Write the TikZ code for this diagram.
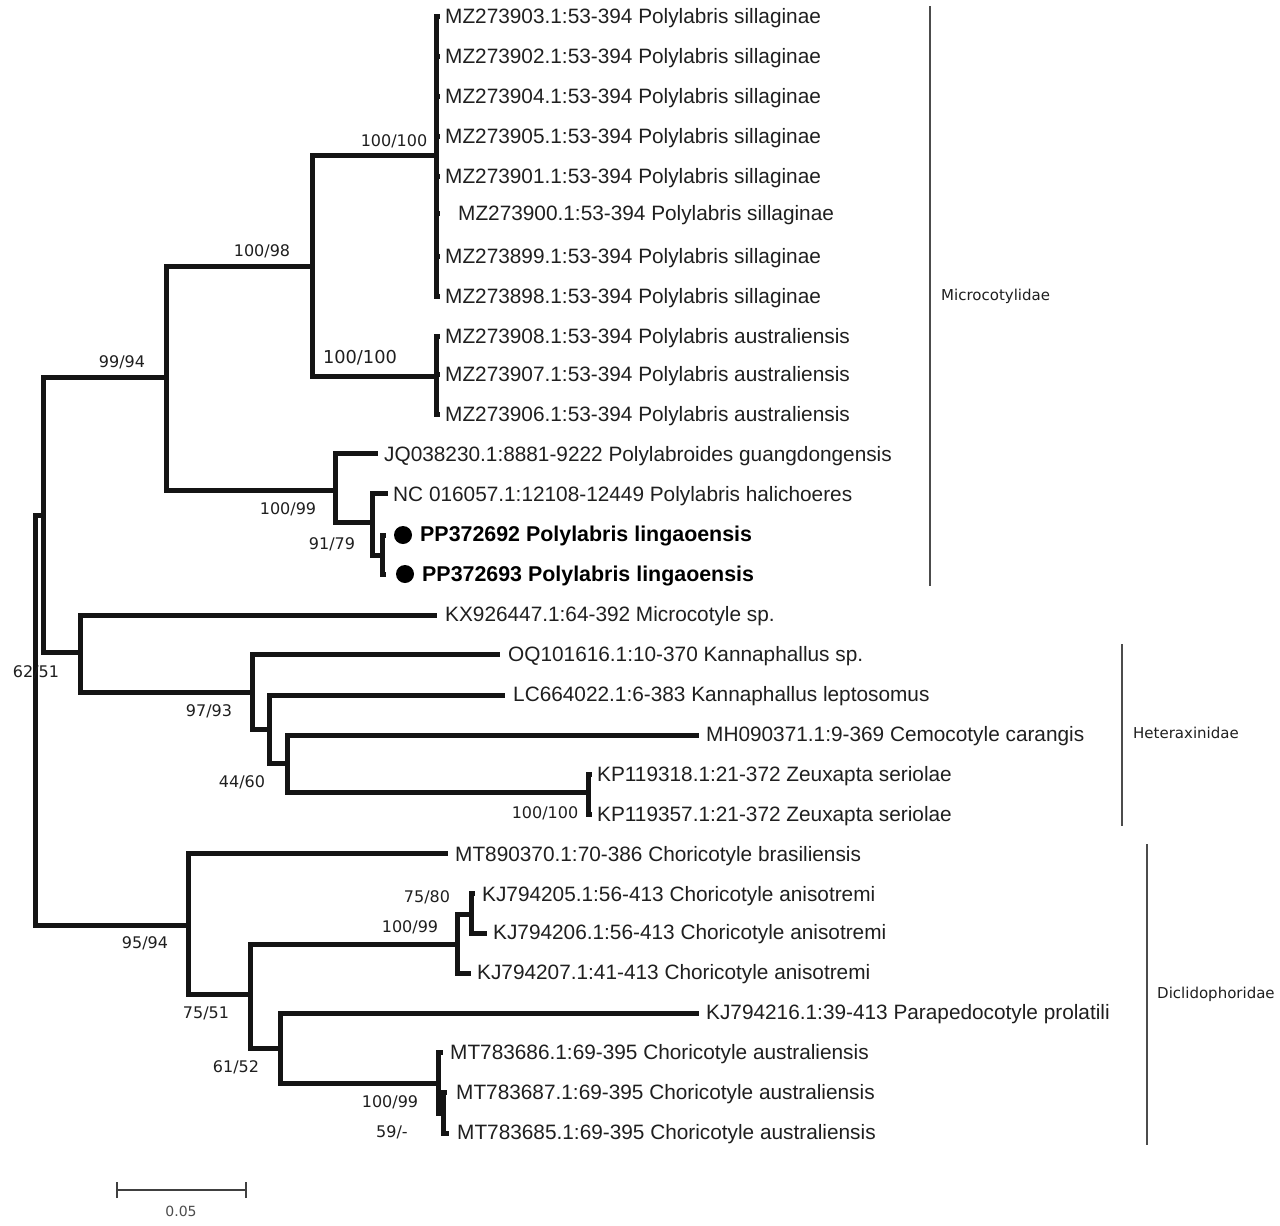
\documentclass[tikz,border=0pt]{standalone}
\usepackage{fontspec}
\setmainfont{Liberation Sans}
\newfontfamily\supfont{DejaVu Sans}
\begin{document}
\begin{tikzpicture}[x=1pt,y=-1pt,
  br/.style={line width=5pt, draw=black!92},
  leaf/.style={anchor=west, inner sep=0pt, text height=15pt, text depth=0pt, font=\fontsize{20.8}{21}\selectfont, text=black!88},
  bleaf/.style={leaf, font=\fontsize{21.4}{22}\selectfont\bfseries, text=black},
  suplab/.style={inner sep=0pt, text height=11.7pt, text depth=0pt, font=\supfont\fontsize{16}{16}\selectfont, text=black!88},
  bigsup/.style={suplab, text height=13pt, font=\supfont\fontsize{17.8}{18}\selectfont},
  fam/.style={anchor=west, inner sep=0pt, font=\supfont\fontsize{15}{15}\selectfont, text=black!88},
  fambar/.style={line width=2pt, draw=black!70},
  dot/.style={circle, fill=black, inner sep=0pt, minimum size=18pt}]
\useasboundingbox (0,0) rectangle (1280,1226);
\fill[white] (0,0) rectangle (1280,1226);

% internal nodes
\coordinate (R) at (35,720);
\coordinate (U) at (43,515);
\coordinate (L) at (188,925);
\coordinate (A) at (166,377);
\coordinate (B) at (312,266);
\coordinate (S) at (436,155);
\coordinate (Au) at (436,376);
\coordinate (C) at (335,490);
\coordinate (D) at (372,522);
\coordinate (E) at (382,555);
\coordinate (F) at (80,652);
\coordinate (G) at (252,692);
\coordinate (H) at (269,729);
\coordinate (I) at (287,763);
\coordinate (Z) at (588,792);
\coordinate (M) at (250,994);
\coordinate (N) at (457,944);
\coordinate (O) at (471,914);
\coordinate (P) at (280,1048);
\coordinate (Q) at (438,1083);
\coordinate (Q2) at (443,1113);

% leaf tips
\coordinate (t1) at (440,16);
\coordinate (t2) at (440,56);
\coordinate (t3) at (440,96);
\coordinate (t4) at (440,136);
\coordinate (t5) at (440,176);
\coordinate (t6) at (440,213);
\coordinate (t7) at (440,256);
\coordinate (t8) at (440,296);
\coordinate (t9) at (440,336);
\coordinate (t10) at (440,374);
\coordinate (t11) at (440,414);
\coordinate (t12) at (378,453);
\coordinate (t13) at (388,493);
\coordinate (t14) at (386,535);
\coordinate (t15) at (386,574);
\coordinate (t16) at (437,615);
\coordinate (t17) at (500,654);
\coordinate (t18) at (505,695);
\coordinate (t19) at (699,735);
\coordinate (t20) at (592,774);
\coordinate (t21) at (592,814);
\coordinate (t22) at (448,853);
\coordinate (t23) at (475,893);
\coordinate (t24) at (487,933);
\coordinate (t25) at (471,973);
\coordinate (t26) at (699,1013);
\coordinate (t27) at (443,1052);
\coordinate (t28) at (447,1092);
\coordinate (t29) at (449,1133);

% branches
\draw[br] (R) |- (U);
\draw[br] (R) |- (L);
\draw[br] (U) |- (A);
\draw[br] (U) |- (F);
\draw[br] (A) |- (B);
\draw[br] (A) |- (C);
\draw[br] (B) |- (S);
\draw[br] (B) |- (Au);
\foreach \t in {t1,t2,t3,t4,t5,t6,t7,t8} \draw[br] (S) |- (\t);
\foreach \t in {t9,t10,t11} \draw[br] (Au) |- (\t);
\draw[br] (C) |- (t12);
\draw[br] (C) |- (D);
\draw[br] (D) |- (t13);
\draw[br] (D) |- (E);
\draw[br] (E) |- (t14);
\draw[br] (E) |- (t15);
\draw[br] (F) |- (t16);
\draw[br] (F) |- (G);
\draw[br] (G) |- (t17);
\draw[br] (G) |- (H);
\draw[br] (H) |- (t18);
\draw[br] (H) |- (I);
\draw[br] (I) |- (t19);
\draw[br] (I) |- (Z);
\draw[br] (Z) |- (t20);
\draw[br] (Z) |- (t21);
\draw[br] (L) |- (t22);
\draw[br] (L) |- (M);
\draw[br] (M) |- (N);
\draw[br] (M) |- (P);
\draw[br] (N) |- (O);
\draw[br] (N) |- (t25);
\draw[br] (O) |- (t23);
\draw[br] (O) |- (t24);
\draw[br] (P) |- (t26);
\draw[br] (P) |- (Q);
\draw[br] (Q) |- (t27);
\draw[br] (Q) |- (Q2);
\draw[br] (Q2) |- (t28);
\draw[br] (Q2) |- (t29);

% leaf labels
\node[leaf] (l1) at (445,16) {MZ273903.1:53-394 Polylabris sillaginae};
\node[leaf] (l2) at (445,56) {MZ273902.1:53-394 Polylabris sillaginae};
\node[leaf] (l3) at (445,96) {MZ273904.1:53-394 Polylabris sillaginae};
\node[leaf] (l4) at (445,136) {MZ273905.1:53-394 Polylabris sillaginae};
\node[leaf] (l5) at (445,176) {MZ273901.1:53-394 Polylabris sillaginae};
\node[leaf] (l6) at (458,213) {MZ273900.1:53-394 Polylabris sillaginae};
\node[leaf] (l7) at (445,256) {MZ273899.1:53-394 Polylabris sillaginae};
\node[leaf] (l8) at (445,296) {MZ273898.1:53-394 Polylabris sillaginae};
\node[leaf] (l9) at (445,336) {MZ273908.1:53-394 Polylabris australiensis};
\node[leaf] (l10) at (445,374) {MZ273907.1:53-394 Polylabris australiensis};
\node[leaf] (l11) at (445,414) {MZ273906.1:53-394 Polylabris australiensis};
\node[leaf] (l12) at (384,454) {JQ038230.1:8881-9222 Polylabroides guangdongensis};
\node[leaf] (l13) at (393,494) {NC 016057.1:12108-12449 Polylabris halichoeres};
\node[dot] (d14) at (403,535) {};
\node[dot] (d15) at (405,574) {};
\node[bleaf] (l14) at (420,534) {PP372692 Polylabris lingaoensis};
\node[bleaf] (l15) at (422,574) {PP372693 Polylabris lingaoensis};
\node[leaf] (l16) at (445,614) {KX926447.1:64-392 Microcotyle sp.};
\node[leaf] (l17) at (508,654) {OQ101616.1:10-370 Kannaphallus sp.};
\node[leaf] (l18) at (513,694) {LC664022.1:6-383 Kannaphallus leptosomus};
\node[leaf] (l19) at (706,734) {MH090371.1:9-369 Cemocotyle carangis};
\node[leaf] (l20) at (597,774) {KP119318.1:21-372 Zeuxapta seriolae};
\node[leaf] (l21) at (597,814) {KP119357.1:21-372 Zeuxapta seriolae};
\node[leaf] (l22) at (455,854) {MT890370.1:70-386 Choricotyle brasiliensis};
\node[leaf] (l23) at (482,894) {KJ794205.1:56-413 Choricotyle anisotremi};
\node[leaf] (l24) at (493,932) {KJ794206.1:56-413 Choricotyle anisotremi};
\node[leaf] (l25) at (477,972) {KJ794207.1:41-413 Choricotyle anisotremi};
\node[leaf] (l26) at (706,1012) {KJ794216.1:39-413 Parapedocotyle prolatili};
\node[leaf] (l27) at (450,1052) {MT783686.1:69-395 Choricotyle australiensis};
\node[leaf] (l28) at (456,1092) {MT783687.1:69-395 Choricotyle australiensis};
\node[leaf] (l29) at (457,1132) {MT783685.1:69-395 Choricotyle australiensis};

% support values
\node[suplab] (s1) at (394,141) {100/100};
\node[suplab] (s2) at (262,251) {100/98};
\node[suplab] (s3) at (122,362) {99/94};
\node[bigsup] (s4) at (360,357) {100/100};
\node[suplab] (s5) at (288,509) {100/99};
\node[suplab] (s6) at (332,544) {91/79};
\node[suplab] (s7) at (36,672) {62/51};
\node[suplab] (s8) at (209,711) {97/93};
\node[suplab] (s9) at (242,782) {44/60};
\node[suplab] (s10) at (545,813) {100/100};
\node[suplab] (s11) at (145,943) {95/94};
\node[suplab] (s12) at (427,897) {75/80};
\node[suplab] (s13) at (410,927) {100/99};
\node[suplab] (s14) at (206,1013) {75/51};
\node[suplab] (s15) at (236,1067) {61/52};
\node[suplab] (s16) at (390,1102) {100/99};
\node[suplab] (s17) at (392,1132) {59/-};

% family bars
\coordinate (f1a) at (930,6);
\coordinate (f1b) at (930,586);
\coordinate (f2a) at (1122,644);
\coordinate (f2b) at (1122,826);
\coordinate (f3a) at (1147,844);
\coordinate (f3b) at (1147,1145);
\draw[fambar] (f1a) -- (f1b);
\draw[fambar] (f2a) -- (f2b);
\draw[fambar] (f3a) -- (f3b);
\node[fam] (fam1) at (941,296) {Microcotylidae};
\node[fam] (fam2) at (1133,733) {Heteraxinidae};
\node[fam] (fam3) at (1157,994) {Diclidophoridae};

% scale bar
\coordinate (sb1) at (117,1190);
\coordinate (sb2) at (246,1190);
\draw[line width=2.5pt, draw=black!75] (sb1) -- (sb2);
\draw[line width=2.5pt, draw=black!75] ([yshift=-8pt]sb1) -- ([yshift=8pt]sb1);
\draw[line width=2.5pt, draw=black!75] ([yshift=-8pt]sb2) -- ([yshift=8pt]sb2);
\node[inner sep=0pt, font=\supfont\fontsize{14}{14}\selectfont, text=black!70] (sbl) at (181,1211) {0.05};
\end{tikzpicture}
\end{document}
